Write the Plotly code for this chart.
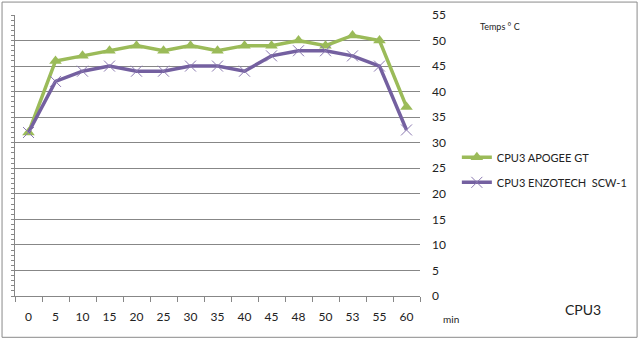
import plotly.graph_objects as go

# Time (minutes) and CPU3 temperature readings (°C)
minutes = ["0", "5", "10", "15", "20", "25", "30", "35", "40", "45", "48", "50", "53", "55", "60"]
apogee_gt = [32, 46, 47, 48, 49, 48, 49, 48, 49, 49, 50, 49, 51, 50, 37]
enzotech_scw1 = [32, 42, 44, 45, 44, 44, 45, 45, 44, 47, 48, 48, 47, 45, 32.5]

y_ticks = list(range(0, 56, 5))

GREEN = "#9BBB59"
PURPLE_LINE = "#7460A0"
PURPLE_MARK = "#8A78B0"
GRID = "#878787"
FONT = "Lato"

fig = go.Figure()

fig.add_trace(go.Scatter(
    x=minutes, y=apogee_gt, name="CPU3 APOGEE GT",
    mode="lines+markers", legendgroup="a",
    line=dict(color=GREEN, width=3.5),
    marker=dict(symbol="triangle-up", size=11, color=GREEN),
    yaxis="y",
))
fig.add_trace(go.Scatter(
    x=minutes, y=enzotech_scw1, name="CPU3 ENZOTECH  SCW-1",
    mode="lines+markers", legendgroup="b",
    line=dict(color=PURPLE_LINE, width=3.5),
    marker=dict(symbol="x-thin", size=11, color=PURPLE_MARK,
                line=dict(color=PURPLE_MARK, width=1)),
    yaxis="y",
))
# carrier for the left-hand minor-tick axis
fig.add_trace(go.Scatter(
    x=minutes, y=[None] * len(minutes), yaxis="y2",
    showlegend=False, hoverinfo="skip", mode="lines",
))

fig.update_layout(
    width=641, height=342,
    margin=dict(l=15, r=221, t=15, b=45.5, autoexpand=False),
    paper_bgcolor="white", plot_bgcolor="white",
    font=dict(family=FONT, size=12, color="#222222"),
    showlegend=True,
    legend=dict(
        x=1.091, y=0.545, xanchor="left", yanchor="top",
        traceorder="grouped", tracegroupgap=6,
        font=dict(family=FONT, size=11, color="#222222"),
        bgcolor="rgba(0,0,0,0)", itemwidth=30,
    ),
    xaxis=dict(
        type="category", categoryorder="array", categoryarray=minutes,
        range=[-0.5, len(minutes) - 0.5], autorange=False,
        showline=True, linecolor=GRID, linewidth=1,
        ticks="outside", tickson="boundaries", ticklen=5, tickcolor=GRID,
        showgrid=False, ticklabelstandoff=10, automargin=False,
        tickfont=dict(family=FONT, size=12, color="#222222"),
    ),
    yaxis=dict(
        side="right", range=[0, 55], tickvals=y_ticks,
        showgrid=True, gridcolor=GRID, gridwidth=1,
        zeroline=False, showline=False, ticks="",
        ticklabelstandoff=11, automargin=False,
        tickfont=dict(family=FONT, size=12, color="#222222"),
    ),
    yaxis2=dict(
        overlaying="y", side="left", range=[0, 55], dtick=1,
        showline=True, linecolor=GRID, linewidth=1,
        ticks="outside", ticklen=3, tickcolor=GRID,
        showticklabels=False, showgrid=False, zeroline=False,
        automargin=False,
    ),
    shapes=[dict(
        type="rect", xref="paper", yref="paper",
        x0=-0.032, x1=1.536, y0=-0.147, y1=1.046,
        line=dict(color="#8A8A8A", width=1), fillcolor="rgba(0,0,0,0)",
        layer="below",
    )],
    annotations=[
        dict(text="Temps ° C", xref="paper", yref="paper",
             x=1.144, y=0.96, xanchor="left", yanchor="middle",
             showarrow=False, font=dict(family=FONT, size=9, color="#222222")),
        dict(text="min", xref="paper", yref="paper",
             x=1.051, y=-0.083, xanchor="left", yanchor="middle",
             showarrow=False, font=dict(family=FONT, size=10, color="#222222")),
        dict(text="CPU3", xref="paper", yref="paper",
             x=1.353, y=-0.048, xanchor="left", yanchor="middle",
             showarrow=False, font=dict(family=FONT, size=14, color="#222222")),
    ],
)

fig.write_html("out.html")
